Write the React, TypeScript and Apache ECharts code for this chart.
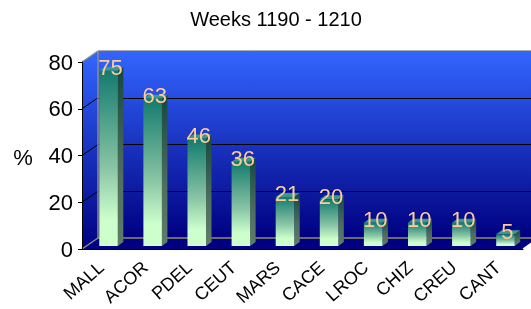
import React, { useEffect, useRef } from "react";
import * as echarts from "echarts";

const categories = ["MALL", "ACOR", "PDEL", "CEUT", "MARS", "CACE", "LROC", "CHIZ", "CREU", "CANT"];
const values = [75, 63, 46, 36, 21, 20, 10, 10, 10, 5];
const yTicks = [0, 20, 40, 60, 80];
const titleText = "Weeks 1190 - 1210";
const yName = "%";

// layout (pixels)
const FX = 82, FB = 249, H = 187, W = 441, DX = 16, DY = 11, BOX = 4.5, BOY = 3;
const FONT = "'Liberation Sans', Arial, sans-serif";

export default function App() {
  const ref = useRef<HTMLDivElement>(null);
  useEffect(() => {
    const chart = echarts.init(ref.current!, null, { renderer: "svg" });
    const yMin = yTicks[0];
    const yMax = yTicks[yTicks.length - 1];
    const yStep = yTicks[1] - yTicks[0];
    const wallGrad = () =>
      new echarts.graphic.LinearGradient(0, 0, 0, 1, [
        { offset: 0, color: "#3366ff" },
        { offset: 1, color: "#000080" },
      ]);

    const renderItem = (params: any, api: any) => {
      const xi = api.value(0);
      const v = api.value(1);
      const top = api.coord([xi, v]);
      const base = api.coord([xi, 0]);
      const bw = api.size([1, 0])[0] * 0.42;
      const x0 = top[0] - bw / 2;
      const sd = 5.5, sh = 4;
      const h = base[1] - top[1];
      return {
        type: "group",
        children: [
          {
            type: "polygon",
            shape: { points: [[x0 + bw, top[1]], [x0 + bw + sd, top[1] - sh], [x0 + bw + sd, base[1] - sh], [x0 + bw, base[1]]] },
            style: {
              fill: new echarts.graphic.LinearGradient(0, 0, 0, 1, [
                { offset: 0, color: "#15483e" },
                { offset: 0.6, color: "#4f6e5c" },
                { offset: 1, color: "#5f7d68" },
              ]),
            },
          },
          {
            type: "polygon",
            shape: { points: [[x0, top[1]], [x0 + sd, top[1] - sh], [x0 + bw + sd, top[1] - sh], [x0 + bw, top[1]]] },
            style: { fill: "#3a9a88" },
          },
          {
            type: "rect",
            shape: { x: x0, y: top[1], width: bw, height: h },
            style: {
              fill: new echarts.graphic.LinearGradient(0, 0, 0, 1, [
                { offset: 0, color: "#137a6e" },
                { offset: 0.55, color: "#88c4a4" },
                { offset: 0.85, color: "#ccffcc" },
                { offset: 1, color: "#ccffcc" },
              ]),
            },
          },
          {
            type: "text",
            x: x0 + bw / 2 + 2,
            y: top[1] - 3,
            z2: 20,
            style: {
              text: String(v),
              fill: "#ffcc99",
              fontSize: 22,
              fontFamily: FONT,
              align: "center",
              verticalAlign: "middle",
              textAlign: "center",
              textVerticalAlign: "middle",
            },
          },
        ],
      };
    };

    const baseOption: any = {
      animation: false,
      grid: [
        { left: FX, top: FB - H, width: W, height: H },
        { left: FX + DX, top: FB - DY - H, width: W, height: H },
        { left: FX + BOX, top: FB - BOY - H, width: W, height: H },
      ],
      xAxis: [
        {
          gridIndex: 0,
          type: "category",
          data: categories,
          axisLine: { lineStyle: { color: "#000", width: 1 } },
          axisTick: { length: 5, lineStyle: { color: "#000" } },
          axisLabel: { rotate: 42, fontSize: 18, color: "#000", fontFamily: FONT, margin: 13, padding: [0, 4, 0, 0] },
          z: 5,
        },
        { gridIndex: 1, type: "category", data: categories, show: false },
        { gridIndex: 2, type: "category", data: categories, show: false },
      ],
      yAxis: [
        {
          gridIndex: 0,
          type: "value",
          min: yMin,
          max: yMax,
          interval: yStep,
          axisLine: { show: true, lineStyle: { color: "#000", width: 1 } },
          axisTick: { show: true, length: 4, lineStyle: { color: "#000" } },
          splitLine: { show: false },
          axisLabel: { fontSize: 22, color: "#000", fontFamily: FONT, margin: 9 },
          z: 5,
        },
        {
          gridIndex: 1,
          type: "value",
          min: yMin,
          max: yMax,
          interval: yStep,
          axisLine: { show: false },
          axisTick: { show: false },
          axisLabel: { show: false },
          splitLine: { show: true, lineStyle: { color: "#000", width: 1 } },
        },
        { gridIndex: 2, type: "value", min: yMin, max: yMax, interval: yStep, show: false },
      ],
      series: [
        {
          type: "custom",
          xAxisIndex: 2,
          yAxisIndex: 2,
          data: values.map((v, i) => [i, v]),
          renderItem,
          z: 10,
        },
      ],
    };
    chart.setOption(baseOption);

    const yF = (v: number) => chart.convertToPixel({ yAxisIndex: 0 }, v) as number;
    const y0 = yF(yMin), yTop = yF(yMax);
    const xL = FX, xR = FX + W;
    const gray = "#8c8c8c";
    const wallLines = yTicks
      .filter((v) => v !== yMin && v !== yMax)
      .map((v) => ({
        type: "line",
        z: 3,
        shape: { x1: xL, y1: yF(v), x2: xL + DX, y2: yF(v) - DY },
        style: { stroke: "#000", lineWidth: 1 },
      }));

    chart.setOption({
      graphic: [
        {
          type: "rect",
          z: -100,
          shape: { x: xL + DX, y: yTop - DY, width: W + 20, height: y0 - yTop },
          style: { fill: wallGrad() },
        },
        {
          type: "polygon",
          z: -100,
          shape: { points: [[xL, yTop], [xL + DX, yTop - DY], [xL + DX, y0 - DY], [xL, y0]] },
          style: { fill: wallGrad() },
        },
        {
          type: "polygon",
          z: -100,
          shape: { points: [[xL, y0], [xL + DX, y0 - DY], [xR + DX, y0 - DY], [xR, y0]] },
          style: { fill: "#000080" },
        },
        ...wallLines,
        { type: "line", z: 3, shape: { x1: xL + DX, y1: yTop - DY, x2: xR + DX + 20, y2: yTop - DY }, style: { stroke: gray, lineWidth: 1.5 } },
        { type: "line", z: 3, shape: { x1: xL, y1: yTop, x2: xL + DX, y2: yTop - DY }, style: { stroke: gray, lineWidth: 1.5 } },
        { type: "line", z: 3, shape: { x1: xL + DX, y1: yTop - DY, x2: xL + DX, y2: y0 - DY }, style: { stroke: gray, lineWidth: 1.5 } },
        { type: "line", z: 3, shape: { x1: xL + DX, y1: y0 - DY, x2: xR + DX + 20, y2: y0 - DY }, style: { stroke: gray, lineWidth: 1.5 } },
        { type: "line", z: 3, shape: { x1: xL, y1: y0, x2: xL + DX, y2: y0 - DY }, style: { stroke: gray, lineWidth: 1.5 } },
        { type: "line", z: 3, shape: { x1: xR, y1: y0, x2: xR + DX, y2: y0 - DY }, style: { stroke: "#ffffff", lineWidth: 1.5 } },
        {
          type: "text",
          x: 276,
          y: 19,
          style: { text: titleText, fill: "#000", fontSize: 20, fontFamily: FONT, align: "center", verticalAlign: "middle", textAlign: "center", textVerticalAlign: "middle" },
        },
        {
          type: "text",
          x: 23,
          y: 157,
          style: { text: yName, fill: "#000", fontSize: 22, fontFamily: FONT, align: "center", verticalAlign: "middle", textAlign: "center", textVerticalAlign: "middle" },
        },
      ],
    });

    return () => chart.dispose();
  }, []);
  return <div ref={ref} style={{ position: "fixed", left: 0, top: 0, width: 531, height: 309 }} />;
}
